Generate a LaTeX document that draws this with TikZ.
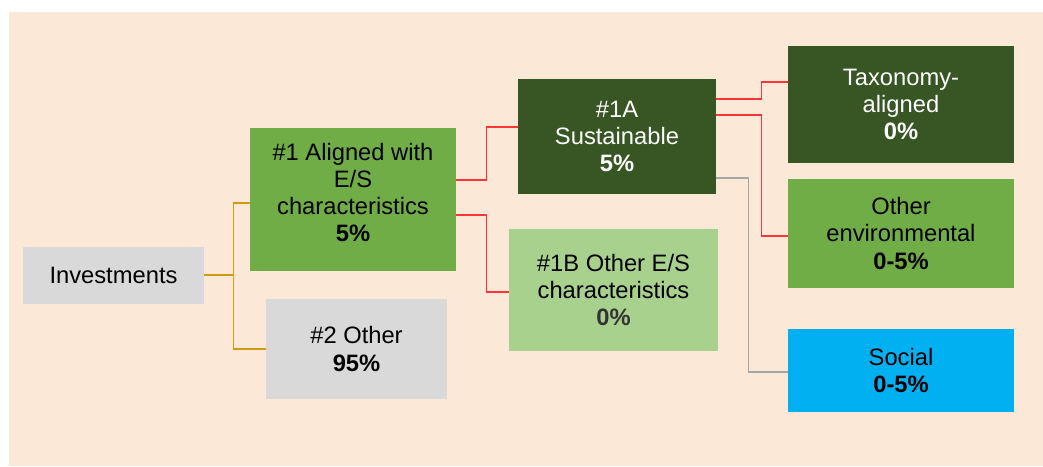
\documentclass[tikz,border=0pt]{standalone}
\usepackage{fontspec}
\setmainfont{Liberation Sans}
\usetikzlibrary{calc}
\definecolor{peach}{HTML}{FBE8D7}
\definecolor{greybox}{HTML}{D9D9D9}
\definecolor{midgreen}{HTML}{70AD47}
\definecolor{darkgreen}{HTML}{375623}
\definecolor{lightgreen}{HTML}{A9D18E}
\definecolor{socialblue}{HTML}{00B0F0}
\definecolor{goldline}{HTML}{D29B14}
\definecolor{redline}{HTML}{FF3535}
\definecolor{greyline}{HTML}{A6A6A6}
\begin{document}
\begin{tikzpicture}[x=0.75pt,y=-0.75pt]

	% Styles
	\tikzstyle{box} = [inner sep=0pt,align=center,font=\fontsize{17.8}{20.3}\selectfont]
	\tikzstyle{link} = [line width=1pt]

	% Hintergrund
	\useasboundingbox (0,0) rectangle (1043,467);
	\fill[peach] (9,12) rectangle (1043,466);

	% Boxen
	\node at (113.5,275) [box,fill=greybox,minimum width=181*0.75pt,minimum height=57*0.75pt] (inv) {Investments};
	\node at (353,199.5) [box,fill=midgreen,minimum width=206*0.75pt,minimum height=143*0.75pt] (one) {\#1 Aligned with\\E/S\\characteristics\\\textbf{5\%}\\[-10pt]};
	\node at (356.5,349) [box,fill=greybox,minimum width=181*0.75pt,minimum height=100*0.75pt] (two) {\#2 Other\\\textbf{95\%}};
	\node at (617,136.5) [box,fill=darkgreen,text=white,minimum width=198*0.75pt,minimum height=115*0.75pt] (sus) {\#1A\\Sustainable\\\textbf{5\%}};
	\node at (613.5,290) [box,fill=lightgreen,minimum width=209*0.75pt,minimum height=122*0.75pt] (es) {\#1B Other E/S\\characteristics\\\textbf{\color{black!80}0\%}};
	\node at (901,104.5) [box,fill=darkgreen,text=white,minimum width=226*0.75pt,minimum height=117*0.75pt] (tax) {Taxonomy-\\aligned\\\textbf{0\%}};
	\node at (901,233.5) [box,fill=midgreen,minimum width=226*0.75pt,minimum height=109*0.75pt] (env) {Other\\environmental\\\textbf{0-5\%}};
	\node at (901,370.5) [box,fill=socialblue,minimum width=226*0.75pt,minimum height=83*0.75pt] (soc) {Social\\\textbf{0-5\%}};

	% Verbindungen
	\draw[link,goldline] (inv.east) -- ++(29,0) |- ($(one.west)+(0,3.5)$);
	\draw[link,goldline] (inv.east) -- ++(29,0) |- (two.west);
	\draw[link,redline] ($(one.east)+(0,-19.5)$) -- ++(30,0) |- ($(sus.west)+(0,-9.5)$);
	\draw[link,redline] ($(one.east)+(0,15.5)$) -- ++(30,0) |- ($(es.west)+(0,2)$);
	\draw[link,redline] ($(sus.east)+(0,-37.5)$) -- ++(45,0) |- ($(tax.west)+(0,-22.5)$);
	\draw[link,redline] ($(sus.east)+(0,-21.5)$) -- ++(45,0) |- ($(env.west)+(0,2.5)$);
	\draw[link,greyline] ($(sus.east)+(0,41.5)$) -- ++(32,0) |- ($(soc.west)+(0,1.5)$);

\end{tikzpicture}
\end{document}
